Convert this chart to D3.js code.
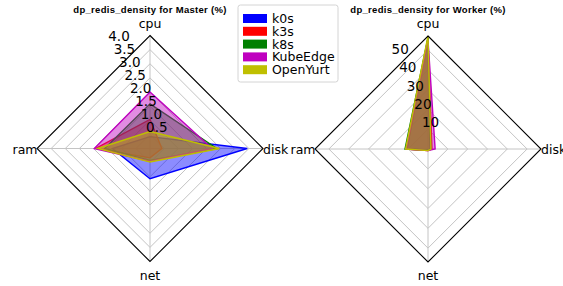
<!DOCTYPE html>
<html>
<head>
<meta charset="utf-8">
<script src="https://cdn.jsdelivr.net/npm/d3@7"></script>
<style>
  body { margin: 0; background: #fff; }
  svg { display: block; }
  text { font-family: "DejaVu Sans", sans-serif; }
</style>
</head>
<body>
<script>
// chart data
var axesNames = ['cpu', 'disk', 'net', 'ram'];
var seriesNames = ['k0s', 'k3s', 'k8s', 'KubeEdge', 'OpenYurt'];
var seriesColors = ['#0000ff', '#ff0000', '#008000', '#bf00bf', '#bfbf00'];

// master values, order cpu, disk, net, ram
var masterK0s = [0.42, 3.44, 1.07, 1.33];
var masterK3s = [1.03, 0.42, 0.33, 1.92];
var masterK8s = [1.58, 2.37, 0.42, 1.6];
var masterKubeEdge = [2.0, 2.2, 0.45, 1.97];
var masterOpenYurt = [0.6, 2.46, 0.48, 1.85];
var masterTicks = [0.5, 1.0, 1.5, 2.0, 2.5, 3.0, 3.5, 4.0];
var masterMax = 4.0;

// worker values
var workerK0s = [56, 1.0, 0.6, 10.6];
var workerK3s = [55, 2.0, 0.8, 10.8];
var workerK8s = [56, 1.3, 0.5, 11.6];
var workerKubeEdge = [55, 3.6, 0.8, 11.0];
var workerOpenYurt = [57, 1.5, 0.8, 11.3];
var workerTicks = [10, 20, 30, 40, 50];
var workerMax = 57;

var width = 563, height = 286;
var svg = d3.select('body').append('svg')
  .attr('width', width)
  .attr('height', height);

var R = 113;

function radar(cx, cy, rmax, ticks, data, title) {
  var r = d3.scaleLinear().domain([0, rmax]).range([0, R]);
  var g = svg.append('g');
  var ang = i => i * Math.PI / 2;
  var pt = (v, i) => [cx + r(v) * Math.sin(ang(i)), cy - r(v) * Math.cos(ang(i))];
  var poly = vals => vals.map((v, i) => pt(v, i));
  var line = d3.line().curve(d3.curveLinearClosed);

  // grid diamonds
  g.selectAll('path.grid')
    .data(ticks.filter(t => t < rmax))
    .join('path')
      .attr('class', 'grid')
      .attr('d', t => line(poly(axesNames.map(() => t))))
      .attr('fill', 'none')
      .attr('stroke', '#c4c4c4')
      .attr('stroke-width', 1);

  // spokes
  g.selectAll('line.spoke')
    .data(axesNames)
    .join('line')
      .attr('class', 'spoke')
      .attr('x1', cx).attr('y1', cy)
      .attr('x2', (d, i) => pt(rmax, i)[0])
      .attr('y2', (d, i) => pt(rmax, i)[1])
      .attr('stroke', '#c4c4c4')
      .attr('stroke-width', 1);

  // series
  data.forEach((vals, k) => {
    g.append('path')
      .attr('d', line(poly(vals)))
      .attr('fill', seriesColors[k])
      .attr('fill-opacity', 0.45)
      .attr('stroke', seriesColors[k])
      .attr('stroke-width', 1.4);
  });

  // outer frame
  g.append('path')
    .attr('d', line(poly(axesNames.map(() => rmax))))
    .attr('fill', 'none')
    .attr('stroke', '#000')
    .attr('stroke-width', 1.1);

  // radial tick labels at 22.5 deg
  var a = -Math.PI / 8;
  g.selectAll('text.tick')
    .data(ticks)
    .join('text')
      .attr('class', 'tick')
      .attr('x', t => cx + r(t) * Math.sin(a) + 1.5)
      .attr('y', t => cy - r(t) * Math.cos(a) - 3.5)
      .attr('font-size', 13.5)
      .attr('fill', '#000')
      .text(t => rmax > 10 ? d3.format('d')(t) : d3.format('.1f')(t));

  // axis labels
  var lab = [
    {x: cx, y: cy - R - 8, anchor: 'middle'},
    {x: cx + R, y: cy + 5, anchor: 'start'},
    {x: cx, y: cy + R + 18, anchor: 'middle'},
    {x: cx - R + 0.5, y: cy + 5, anchor: 'end'}
  ];
  g.selectAll('text.axis')
    .data(axesNames)
    .join('text')
      .attr('class', 'axis')
      .attr('x', (d, i) => lab[i].x)
      .attr('y', (d, i) => lab[i].y)
      .attr('text-anchor', (d, i) => lab[i].anchor)
      .attr('font-size', 12.5)
      .attr('fill', '#000')
      .text(d => d);

  svg.append('text')
    .attr('x', cx)
    .attr('y', 13)
    .attr('text-anchor', 'middle')
    .attr('font-size', 9.5)
    .attr('font-weight', 'bold')
    .style('font-family', '"Liberation Sans", Arial, sans-serif')
    .style('letter-spacing', '0.3px')
    .text(title);
}

radar(150, 148.5, masterMax, masterTicks,
  [masterK0s, masterK3s, masterK8s, masterKubeEdge, masterOpenYurt],
  'dp_redis_density for Master (%)');
radar(428, 149, workerMax, workerTicks,
  [workerK0s, workerK3s, workerK8s, workerKubeEdge, workerOpenYurt],
  'dp_redis_density for Worker (%)');

// legend
var leg = svg.append('g').attr('transform', 'translate(238,5)');
leg.append('rect')
  .attr('width', 100).attr('height', 77)
  .attr('rx', 2.5)
  .attr('fill', '#fff').attr('fill-opacity', 0.85)
  .attr('stroke', '#d4d4d4');
var items = leg.selectAll('g.item')
  .data(seriesNames)
  .join('g')
    .attr('class', 'item')
    .attr('transform', (d, i) => 'translate(0,' + (13.5 + i * 12.8) + ')');
items.append('rect')
  .attr('x', 5).attr('y', -4.5)
  .attr('width', 24).attr('height', 9)
  .attr('fill', (d, i) => seriesColors[i]);
items.append('text')
  .attr('x', 34).attr('y', 4.5)
  .attr('font-size', 12.5)
  .attr('fill', '#000')
  .text(d => d);
</script>
</body>
</html>
